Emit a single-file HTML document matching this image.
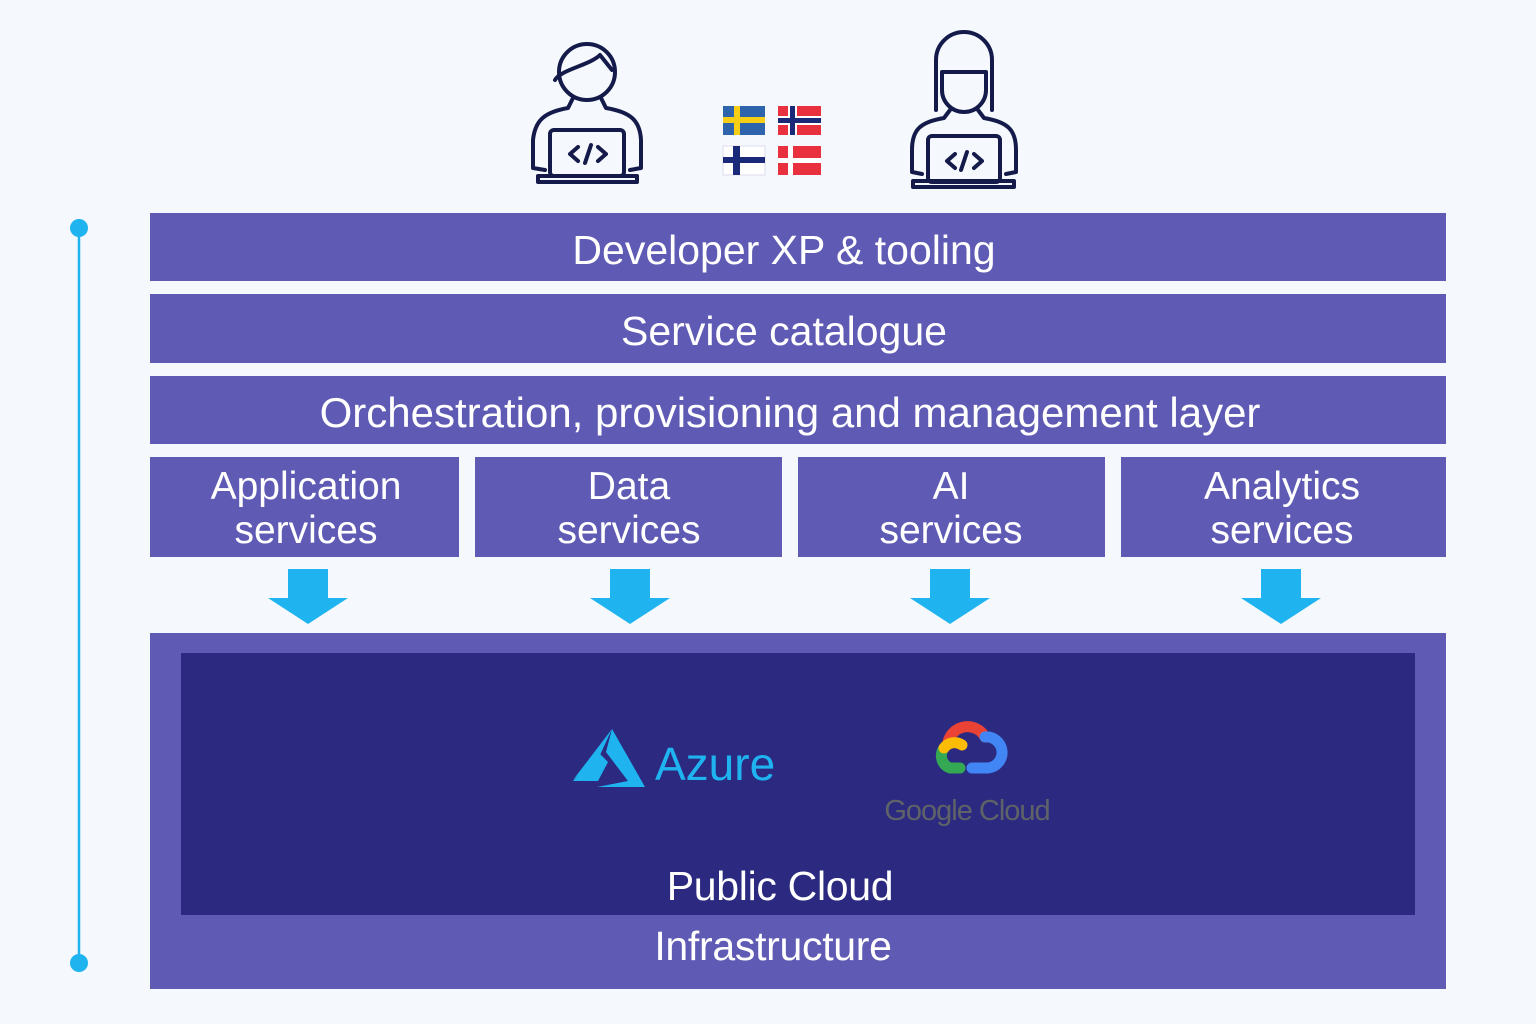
<!DOCTYPE html>
<html><head><meta charset="utf-8"><style>
html,body{margin:0;padding:0;background:#f5f8fc;}
svg{display:block;font-family:"Liberation Sans",sans-serif;}
</style></head><body>
<svg width="1536" height="1024" viewBox="0 0 1536 1024">
<rect width="1536" height="1024" fill="#f5f8fc"/>
<line x1="79" y1="228" x2="79" y2="963" stroke="#1fb4f0" stroke-width="2.5"/>
<circle cx="79" cy="228" r="9" fill="#1fb4f0"/>
<circle cx="79" cy="963" r="9" fill="#1fb4f0"/>
<g fill="#5f5bb5">
<rect x="150" y="213" width="1296" height="68"/>
<rect x="150" y="294" width="1296" height="69"/>
<rect x="150" y="376" width="1296" height="68"/>
<rect x="150" y="457" width="309" height="100"/>
<rect x="475" y="457" width="307" height="100"/>
<rect x="798" y="457" width="307" height="100"/>
<rect x="1121" y="457" width="325" height="100"/>
<rect x="150" y="633" width="1296" height="356"/>
</g>
<rect x="181" y="653" width="1234" height="262" fill="#2b2a80"/>
<g fill="#fff" text-anchor="middle">
<text x="784" y="264" font-size="41">Developer XP &amp; tooling</text>
<text x="784" y="345" font-size="41">Service catalogue</text>
<text x="790" y="427" font-size="42">Orchestration, provisioning and management layer</text>
<g font-size="39">
<text x="306" y="499">Application</text><text x="306" y="543">services</text>
<text x="629" y="499">Data</text><text x="629" y="543">services</text>
<text x="951" y="499">AI</text><text x="951" y="543">services</text>
<text x="1282" y="499">Analytics</text><text x="1282" y="543">services</text>
</g>
<text x="780" y="900" font-size="41" letter-spacing="-0.3">Public Cloud</text>
<text x="773" y="960" font-size="41" letter-spacing="-0.3">Infrastructure</text>
</g>
<g fill="#1fb4f0">
<path d="M288 569h40v29h20l-40 26-40-26h20z"/>
<path d="M610 569h40v29h20l-40 26-40-26h20z"/>
<path d="M930 569h40v29h20l-40 26-40-26h20z"/>
<path d="M1261 569h40v29h20l-40 26-40-26h20z"/>
</g>
<g fill="#1fb4f0">
<path d="M573 780 L612 729 L600 755 Z"/>
<path d="M573 781 L598 752 L608 762 L598 781 Z"/>
<path d="M612 729 L645 787 L597 787 L628 781 L606 752 Z"/>
</g>
<text x="655" y="780" font-size="46" fill="#1fb4f0">Azure</text>
<g fill="none" stroke-width="11" stroke-linecap="round">
<path d="M948 742 A20 20 0 0 1 985 737" stroke="#ea4335"/>
<path d="M985 737 A14 14 0 0 1 988 768 L972 768" stroke="#4285f4"/>
<path d="M960 768 L950 768 A13 13 0 0 1 944 748" stroke="#34a853"/>
<path d="M944 748 A13 13 0 0 1 962 745" stroke="#fbbc05"/>
</g>
<text x="967" y="820" font-size="29" fill="#5f6368" text-anchor="middle" letter-spacing="-1">Google Cloud</text>
<g fill="none" stroke="#141a4a" stroke-width="4" stroke-linejoin="round" stroke-linecap="round">
<circle cx="587" cy="72" r="28"/>
<path d="M555 80 C560 70 590 65 600 55 L612 70"/>
<path d="M573 98 L568 108 C545 112 535 120 533 140 L533 168 L545 170 M601 98 L606 108 C630 112 640 120 641 140 L641 168 L630 170"/>
<rect x="550" y="130" width="74" height="46" rx="4"/>
<path d="M538 176 H637 V182 H538 Z"/>
<path d="M578 147 L570 154 L578 161 M585 163 L591 145 M598 147 L606 154 L598 161"/>
<path d="M936 110 V60 A28 28 0 0 1 992 60 V110"/>
<path d="M942 72 H986 V90 A22 22 0 0 1 942 90 Z"/>
<path d="M950 110 L944 118 C920 122 912 130 912 150 L912 172 L922 174 M978 110 L984 118 C1008 122 1016 130 1016 150 L1016 172 L1006 174"/>
<rect x="928" y="136" width="72" height="46" rx="4"/>
<path d="M913 181 H1014 V187 H913 Z"/>
<path d="M955 154 L947 161 L955 168 M961 170 L967 152 M974 154 L982 161 L974 168"/>
</g>
<rect x="723" y="106" width="42" height="29" fill="#2e64ac"/>
<rect x="734" y="106" width="6" height="29" fill="#f7cd15"/><rect x="723" y="117" width="42" height="6" fill="#f7cd15"/>
<rect x="778" y="106" width="43" height="29" fill="#e8303f"/>
<rect x="788" y="106" width="9" height="29" fill="#fff"/><rect x="778" y="116" width="43" height="9" fill="#fff"/>
<rect x="790" y="106" width="5" height="29" fill="#1a2a78"/><rect x="778" y="118" width="43" height="5" fill="#1a2a78"/>
<rect x="723" y="146" width="42" height="29" fill="#fff" stroke="#dde" stroke-width="1"/>
<rect x="733" y="146" width="7" height="29" fill="#1a2a78"/><rect x="723" y="157" width="42" height="6" fill="#1a2a78"/>
<rect x="778" y="146" width="43" height="29" fill="#e8303f"/>
<rect x="788" y="146" width="5" height="29" fill="#fff"/><rect x="778" y="158" width="43" height="5" fill="#fff"/>
</svg>
</body></html>
